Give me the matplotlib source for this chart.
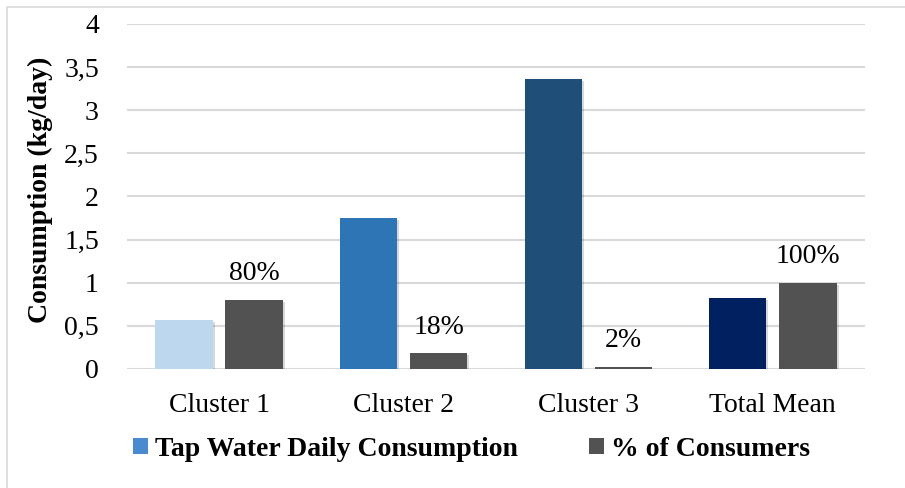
import numpy as np
import matplotlib
matplotlib.use("Agg")
import matplotlib.pyplot as plt
from matplotlib.patches import Rectangle, Patch
import matplotlib.patheffects as pe

categories = ["Cluster 1", "Cluster 2", "Cluster 3", "Total Mean"]
consumption = [0.57, 1.75, 3.36, 0.82]
consumers_share = [0.80, 0.18, 0.02, 1.00]
share_labels = ["80%", "18%", "2%", "100%"]
yticks = [0, 0.5, 1, 1.5, 2, 2.5, 3, 3.5, 4]
ytick_labels = ["0", "0,5", "1", "1,5", "2", "2,5", "3", "3,5", "4"]

blue_colors = ["#BDD7EE", "#2E75B6", "#1F4E79", "#002060"]
gray = "#525252"

plt.rcParams["font.family"] = ["Liberation Serif", "DejaVu Serif"]

fig = plt.figure(figsize=(9.05, 4.88), dpi=100)
ax = fig.add_axes([0.140, 0.244, 0.816, 0.707])

x = np.arange(len(categories))
w = 0.31
gap = 0.07 / 2
shadow = [pe.SimplePatchShadow(offset=(1.5, -1.5), shadow_rgbFace="#000000", alpha=0.15), pe.Normal()]

b1 = ax.bar(x - w / 2 - gap, consumption, w, color=blue_colors, zorder=3, path_effects=shadow)
b2 = ax.bar(x + w / 2 + gap, consumers_share, w, color=gray, zorder=3, path_effects=shadow)

for xi, v, lab in zip(x, consumers_share, share_labels):
    ax.annotate(lab, (xi + w / 2 + gap, v), xytext=(0, 10), textcoords="offset points",
                ha="center", va="bottom", fontsize=20, color="#000000")

ax.set_xlim(-0.5, 3.5)
ax.set_ylim(0, 4)
ax.set_yticks(yticks)
ax.set_yticklabels(ytick_labels)
ax.set_xticks(x)
ax.set_xticklabels(categories)
ax.tick_params(axis="y", length=0, pad=20, labelsize=20)
ax.tick_params(axis="x", length=0, pad=17, labelsize=20)
ax.grid(axis="y", color="#D9D9D9", linewidth=1.5, zorder=0)
for s in ax.spines.values():
    s.set_visible(False)
ax.set_ylabel("Consumption (kg/day)", fontsize=20, fontweight="bold")
ax.yaxis.set_label_coords(-0.100, 0.519)

handles = [Patch(facecolor="#4A8BD0"), Patch(facecolor=gray)]
fig.legend(handles, ["Tap Water Daily Consumption", "% of Consumers"],
           loc="center", bbox_to_anchor=(0.521, 0.079), ncol=2, frameon=False,
           prop={"size": 20, "weight": "bold"}, handlelength=0.55, handleheight=0.55,
           handletextpad=0.25, columnspacing=2.55)

fig.patches.append(Rectangle((7 / 905, -0.01), 1.0, 1 - 7 / 488 + 0.01, transform=fig.transFigure,
                             fill=False, edgecolor="#D9D9D9", linewidth=1.2))

fig.savefig("out.png", dpi=100)
